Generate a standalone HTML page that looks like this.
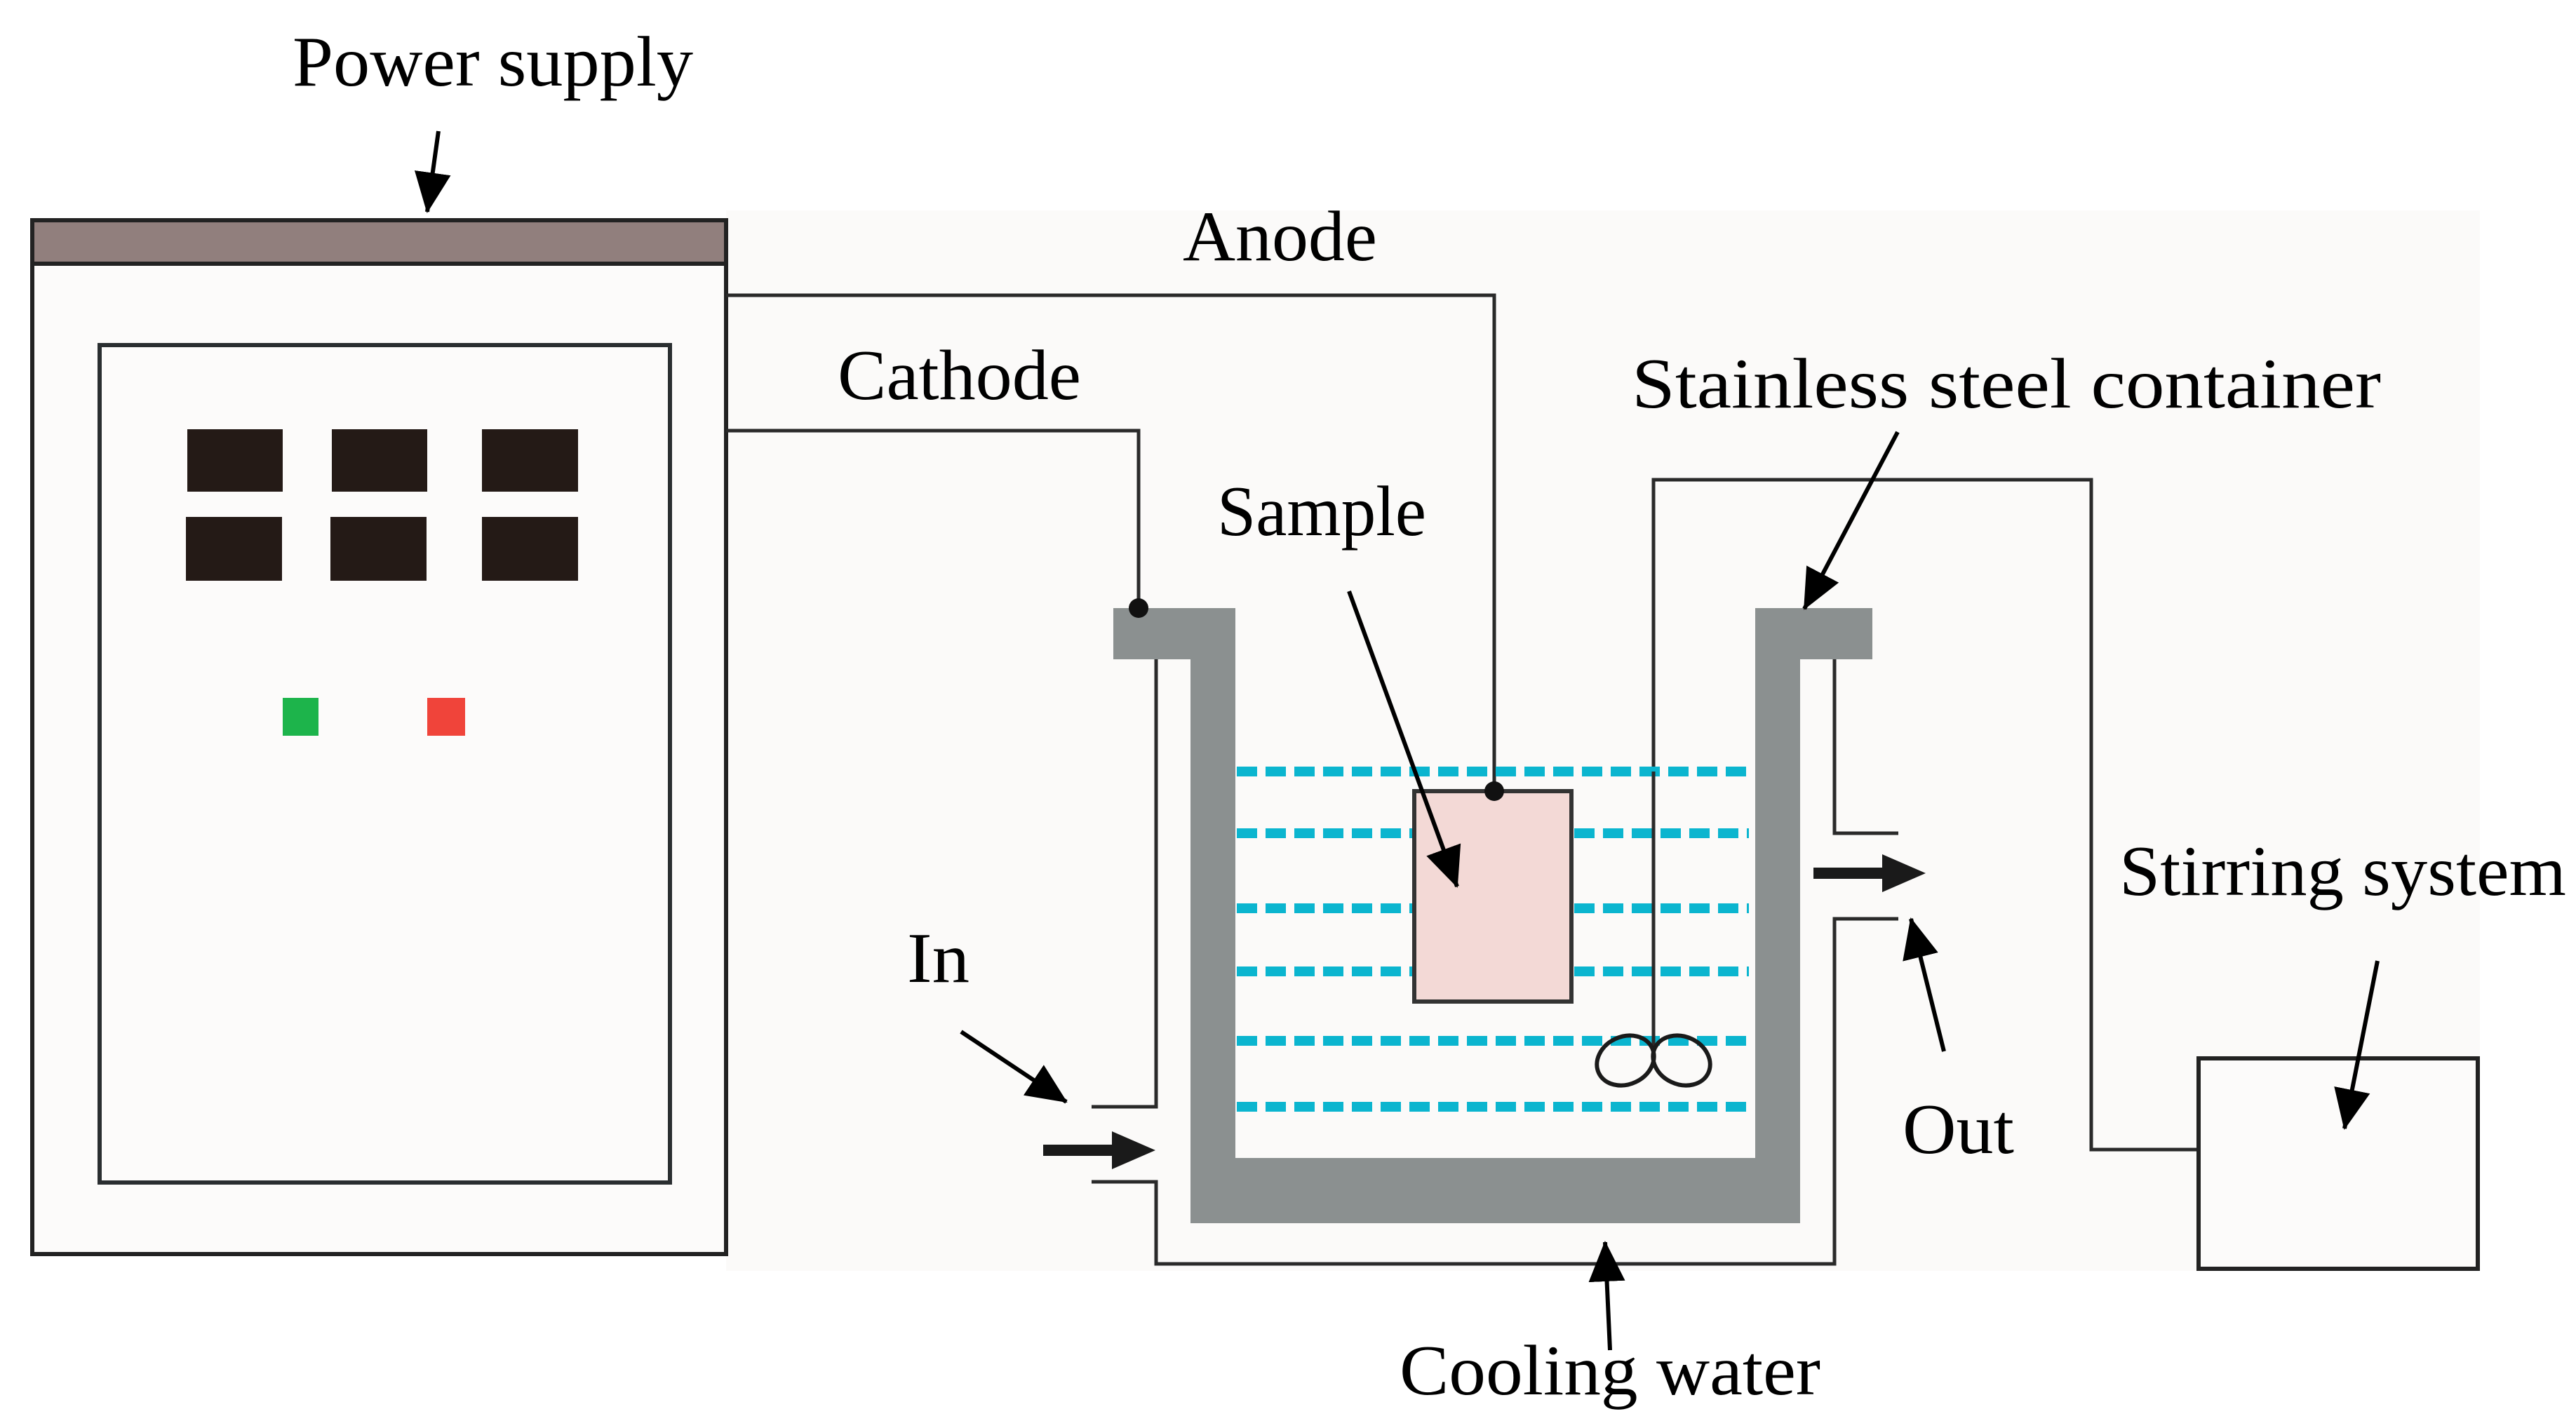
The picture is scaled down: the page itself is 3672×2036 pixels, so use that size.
<!DOCTYPE html>
<html><head><meta charset="utf-8"><style>html,body{margin:0;padding:0;background:#fff}svg{display:block}</style></head>
<body>
<svg width="3672" height="2036" viewBox="0 0 3672 2036" xmlns="http://www.w3.org/2000/svg">
<defs>
<marker id="ah" markerWidth="58" markerHeight="52" refX="56" refY="26" orient="auto" markerUnits="userSpaceOnUse" viewBox="0 0 58 52">
<polygon points="0,0 58,26 0,52" fill="#000"/>
</marker>
</defs>
<rect x="1035" y="300" width="2500" height="1512" fill="#fbfaf9"/>
<!-- power supply -->
<rect x="46" y="314" width="989" height="1474" fill="#fcfbfa" stroke="#222" stroke-width="6"/>
<rect x="46" y="314" width="989" height="62" fill="#917f7d" stroke="#222" stroke-width="6"/>
<rect x="142" y="492" width="813" height="1194" fill="#fcfbfa" stroke="#2a2e30" stroke-width="6"/>
<g fill="#241a16">
<rect x="267" y="612" width="136" height="89"/><rect x="473" y="612" width="136" height="89"/><rect x="687" y="612" width="137" height="89"/>
<rect x="265" y="737" width="137" height="91"/><rect x="471" y="737" width="137" height="91"/><rect x="687" y="737" width="137" height="91"/>
</g>
<rect x="403" y="995" width="51" height="54" fill="#1db44b"/>
<rect x="609" y="995" width="54" height="54" fill="#f0443a"/>
<!-- wires -->
<g fill="none" stroke="#2a2a2a" stroke-width="5">
<polyline points="1035,421 2130,421 2130,1128"/>
<polyline points="1035,614 1623,614 1623,867"/>
<polyline points="2357,1495 2357,684 2981,684 2981,1639 3134,1639"/>
<polyline points="1556,1578 1648,1578 1648,940"/>
<polyline points="1556,1685 1648,1685 1648,1802 2615,1802 2615,1310 2706,1310"/>
<polyline points="2615,940 2615,1188 2706,1188"/>
</g>
<!-- container -->
<path d="M1587,867 H1761 V1651 H2502 V867 H2669 V940 H2566 V1744 H1697 V940 H1587 Z" fill="#8b9090"/>
<!-- liquid lines -->
<g stroke="#0bb5cf" stroke-width="14" stroke-dasharray="29 12" fill="none">
<line x1="1763" y1="1100" x2="2493" y2="1100"/>
<line x1="1763" y1="1188" x2="2016" y2="1188"/><line x1="2244" y1="1188" x2="2493" y2="1188"/>
<line x1="1763" y1="1295" x2="2016" y2="1295"/><line x1="2244" y1="1295" x2="2493" y2="1295"/>
<line x1="1763" y1="1385" x2="2016" y2="1385"/><line x1="2244" y1="1385" x2="2493" y2="1385"/>
<line x1="1763" y1="1484" x2="2493" y2="1484"/>
<line x1="1763" y1="1578" x2="2493" y2="1578"/>
</g>
<!-- sample -->
<rect x="2016" y="1128" width="224" height="300" fill="#f3d9d6" stroke="#333" stroke-width="6"/>
<circle cx="2130" cy="1128" r="14" fill="#111"/>
<circle cx="1623" cy="867" r="14" fill="#111"/>
<!-- stirrer -->
<line x1="2357" y1="1100" x2="2357" y2="1495" stroke="#2a2a2a" stroke-width="5"/>
<g fill="none" stroke="#1a1a1a" stroke-width="6">
<ellipse cx="2317" cy="1512" rx="42" ry="34" transform="rotate(-25 2317 1512)"/>
<ellipse cx="2397" cy="1512" rx="42" ry="34" transform="rotate(25 2397 1512)"/>
</g>
<!-- stirring box -->
<rect x="3134" y="1509" width="398" height="300" fill="#fcfbfa" stroke="#222" stroke-width="6"/>
<!-- thick flow arrows -->
<g stroke="#1a1a1a" stroke-width="16" fill="#1a1a1a">
<line x1="1487" y1="1640" x2="1590" y2="1640"/>
<polygon points="1585,1613 1647,1640 1585,1667" stroke="none"/>
<line x1="2585" y1="1245" x2="2688" y2="1245"/>
<polygon points="2683,1218 2745,1245 2683,1272" stroke="none"/>
</g>
<!-- thin pointer arrows -->
<g stroke="#000" stroke-width="6" fill="none" marker-end="url(#ah)">
<line x1="625" y1="187" x2="609" y2="302"/>
<line x1="1923" y1="843" x2="2077" y2="1264"/>
<line x1="2705" y1="616" x2="2572" y2="868"/>
<line x1="1370" y1="1471" x2="1520" y2="1571"/>
<line x1="2771" y1="1499" x2="2724" y2="1310"/>
<line x1="2295" y1="1925" x2="2288" y2="1771"/>
<line x1="3389" y1="1370" x2="3342" y2="1609"/>
</g>
<!-- labels -->
<g font-family="'Liberation Serif', serif" font-size="102" fill="#000">
<text x="417" y="122" textLength="571" lengthAdjust="spacingAndGlyphs">Power supply</text>
<text x="1686" y="371" textLength="277" lengthAdjust="spacingAndGlyphs">Anode</text>
<text x="1194" y="569" textLength="347" lengthAdjust="spacingAndGlyphs">Cathode</text>
<text x="2326" y="581" textLength="1068" lengthAdjust="spacingAndGlyphs">Stainless steel container</text>
<text x="1735" y="763" textLength="298" lengthAdjust="spacingAndGlyphs">Sample</text>
<text x="3021" y="1276" textLength="637" lengthAdjust="spacingAndGlyphs">Stirring system</text>
<text x="1293" y="1400" textLength="89" lengthAdjust="spacingAndGlyphs">In</text>
<text x="2712" y="1644" textLength="159" lengthAdjust="spacingAndGlyphs">Out</text>
<text x="1995" y="1988" textLength="600" lengthAdjust="spacingAndGlyphs">Cooling water</text>
</g>
</svg>
</body></html>
